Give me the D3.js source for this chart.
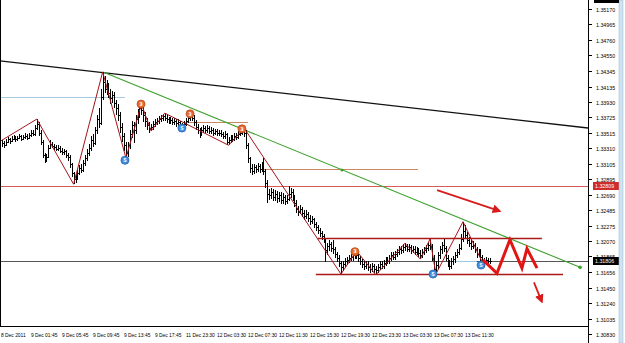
<!DOCTYPE html>
<html><head><meta charset="utf-8">
<script src="https://cdn.jsdelivr.net/npm/d3@7"></script>
<style>html,body{margin:0;padding:0;background:#fff;overflow:hidden}</style>
</head><body><svg id="c" width="625" height="343"></svg>
<script>
// ---------- DATA ----------
const firstOpen = 1.3336;
const closes = [
1.3338,1.3336,1.3340,1.3343,1.3341,1.3344,1.3346,1.3343,1.3345,1.3347,
1.3344,1.3346,1.3348,1.3345,1.3349,1.3352,1.3350,1.3358,1.3363,1.3352,
1.3340,1.3322,1.3316,1.3320,1.3332,1.3337,1.3334,1.3333,1.3330,1.3332,
1.3328,1.3326,1.3327,1.3322,1.3320,1.3310,1.3298,1.3290,1.3292,1.3298,
1.3305,1.3302,1.3312,1.3318,1.3325,1.3332,1.3342,1.3338,1.3355,1.3370,
1.3365,1.3400,1.3420,1.3410,1.3415,1.3405,1.3398,1.3402,1.3392,1.3385,
1.3375,1.3360,1.3348,1.3335,1.3325,1.3335,1.3350,1.3362,1.3355,1.3370,
1.3378,1.3385,1.3382,1.3375,1.3368,1.3362,1.3358,1.3360,1.3364,1.3366,
1.3368,1.3370,1.3372,1.3374,1.3372,1.3370,1.3368,1.3369,1.3366,1.3367,
1.3365,1.3366,1.3362,1.3360,1.3364,1.3368,1.3372,1.3374,1.3372,1.3366,
1.3360,1.3355,1.3350,1.3356,1.3358,1.3355,1.3358,1.3354,1.3355,1.3352,
1.3354,1.3351,1.3352,1.3350,1.3348,1.3350,1.3340,1.3342,1.3345,1.3344,
1.3348,1.3346,1.3350,1.3352,1.3355,1.3352,1.3335,1.3318,1.3305,1.3300,
1.3306,1.3303,1.3307,1.3304,1.3308,1.3300,1.3285,1.3270,1.3268,1.3272,
1.3266,1.3270,1.3264,1.3268,1.3262,1.3266,1.3260,1.3263,1.3270,1.3272,
1.3265,1.3258,1.3250,1.3246,1.3250,1.3244,1.3240,1.3243,1.3238,1.3234,
1.3236,1.3230,1.3226,1.3222,1.3218,1.3214,1.3210,1.3195,1.3200,1.3203,
1.3198,1.3196,1.3190,1.3185,1.3178,1.3172,1.3176,1.3180,1.3182,1.3185,
1.3186,1.3188,1.3190,1.3188,1.3184,1.3180,1.3176,1.3174,1.3177,1.3172,
1.3170,1.3174,1.3170,1.3168,1.3172,1.3176,1.3174,1.3178,1.3182,1.3180,
1.3184,1.3188,1.3186,1.3190,1.3193,1.3196,1.3195,1.3199,1.3200,1.3197,
1.3199,1.3195,1.3197,1.3193,1.3195,1.3191,1.3189,1.3192,1.3195,1.3198,
1.3202,1.3200,1.3185,1.3170,1.3175,1.3188,1.3196,1.3202,1.3198,1.3185,
1.3178,1.3174,1.3180,1.3183,1.3188,1.3192,1.3198,1.3210,1.3220,1.3215,
1.3208,1.3205,1.3200,1.3202,1.3196,1.3190,1.3193,1.3186,1.3182,1.3178,
1.3182,1.3180,1.3180];
const highs = [
1.3342,1.3341,1.3343,1.3346,1.3345,1.3347,1.3349,1.3348,1.3348,1.3350,
1.3349,1.3349,1.3351,1.3350,1.3352,1.3356,1.3355,1.3362,1.3370,1.3366,
1.3355,1.3342,1.3325,1.3324,1.3335,1.3342,1.3339,1.3337,1.3336,1.3335,
1.3334,1.3331,1.3330,1.3329,1.3325,1.3322,1.3312,1.3300,1.3297,1.3302,
1.3309,1.3310,1.3316,1.3322,1.3330,1.3337,1.3347,1.3350,1.3359,1.3375,
1.3385,1.3410,1.3433,1.3428,1.3422,1.3418,1.3410,1.3408,1.3406,1.3396,
1.3390,1.3380,1.3365,1.3352,1.3340,1.3340,1.3355,1.3368,1.3366,1.3375,
1.3383,1.3389,1.3390,1.3386,1.3380,1.3372,1.3366,1.3364,1.3368,1.3370,
1.3372,1.3374,1.3376,1.3377,1.3378,1.3375,1.3373,1.3373,1.3372,1.3371,
1.3370,1.3370,1.3368,1.3365,1.3367,1.3371,1.3376,1.3378,1.3380,1.3375,
1.3369,1.3363,1.3358,1.3360,1.3362,1.3361,1.3362,1.3361,1.3359,1.3358,
1.3357,1.3357,1.3356,1.3355,1.3353,1.3354,1.3352,1.3346,1.3349,1.3349,
1.3351,1.3352,1.3354,1.3356,1.3358,1.3358,1.3355,1.3338,1.3320,1.3310,
1.3310,1.3309,1.3312,1.3310,1.3313,1.3318,1.3303,1.3288,1.3276,1.3278,
1.3276,1.3275,1.3274,1.3273,1.3272,1.3271,1.3269,1.3268,1.3280,1.3278,
1.3276,1.3268,1.3262,1.3254,1.3255,1.3253,1.3248,1.3248,1.3246,1.3242,
1.3240,1.3238,1.3233,1.3229,1.3225,1.3221,1.3217,1.3211,1.3205,1.3208,
1.3206,1.3208,1.3199,1.3193,1.3188,1.3181,1.3180,1.3184,1.3186,1.3189,
1.3190,1.3192,1.3193,1.3194,1.3191,1.3187,1.3183,1.3180,1.3181,1.3180,
1.3176,1.3178,1.3177,1.3174,1.3176,1.3180,1.3180,1.3182,1.3186,1.3186,
1.3188,1.3192,1.3192,1.3194,1.3197,1.3200,1.3200,1.3203,1.3204,1.3203,
1.3203,1.3202,1.3201,1.3200,1.3199,1.3198,1.3195,1.3196,1.3199,1.3202,
1.3206,1.3210,1.3203,1.3188,1.3180,1.3192,1.3200,1.3206,1.3210,1.3200,
1.3189,1.3182,1.3184,1.3187,1.3192,1.3196,1.3203,1.3216,1.3233,1.3228,
1.3219,1.3212,1.3209,1.3207,1.3205,1.3199,1.3197,1.3196,1.3189,1.3185,
1.3186,1.3185,1.3184];
const lows = [
1.3333,1.3332,1.3334,1.3338,1.3337,1.3339,1.3342,1.3340,1.3341,1.3343,
1.3341,1.3342,1.3343,1.3342,1.3343,1.3346,1.3347,1.3348,1.3355,1.3348,
1.3336,1.3318,1.3311,1.3313,1.3318,1.3330,1.3331,1.3329,1.3327,1.3327,
1.3325,1.3322,1.3322,1.3318,1.3314,1.3305,1.3292,1.3283,1.3284,1.3288,
1.3295,1.3298,1.3299,1.3308,1.3314,1.3321,1.3328,1.3333,1.3335,1.3350,
1.3358,1.3362,1.3396,1.3405,1.3402,1.3398,1.3390,1.3392,1.3385,1.3376,
1.3368,1.3352,1.3340,1.3328,1.3318,1.3320,1.3330,1.3345,1.3338,1.3350,
1.3364,1.3372,1.3375,1.3366,1.3360,1.3356,1.3352,1.3354,1.3356,1.3360,
1.3362,1.3364,1.3366,1.3368,1.3367,1.3365,1.3363,1.3364,1.3362,1.3362,
1.3360,1.3361,1.3358,1.3356,1.3357,1.3361,1.3365,1.3368,1.3367,1.3361,
1.3355,1.3350,1.3345,1.3347,1.3352,1.3351,1.3352,1.3350,1.3350,1.3348,
1.3349,1.3347,1.3347,1.3346,1.3343,1.3344,1.3336,1.3335,1.3338,1.3340,
1.3341,1.3342,1.3343,1.3347,1.3349,1.3346,1.3330,1.3312,1.3298,1.3295,
1.3296,1.3298,1.3299,1.3298,1.3300,1.3295,1.3278,1.3258,1.3262,1.3263,
1.3260,1.3261,1.3258,1.3259,1.3256,1.3257,1.3255,1.3256,1.3260,1.3265,
1.3260,1.3252,1.3245,1.3241,1.3243,1.3239,1.3235,1.3236,1.3233,1.3229,
1.3230,1.3225,1.3221,1.3217,1.3213,1.3209,1.3205,1.3179,1.3188,1.3194,
1.3192,1.3190,1.3184,1.3179,1.3172,1.3163,1.3167,1.3172,1.3175,1.3178,
1.3180,1.3181,1.3183,1.3183,1.3179,1.3175,1.3171,1.3169,1.3170,1.3167,
1.3165,1.3166,1.3165,1.3162,1.3164,1.3168,1.3170,1.3170,1.3174,1.3176,
1.3176,1.3180,1.3182,1.3182,1.3186,1.3189,1.3190,1.3191,1.3194,1.3192,
1.3193,1.3190,1.3191,1.3188,1.3189,1.3186,1.3183,1.3185,1.3188,1.3191,
1.3194,1.3195,1.3180,1.3165,1.3163,1.3170,1.3183,1.3190,1.3192,1.3180,
1.3172,1.3168,1.3170,1.3175,1.3178,1.3184,1.3188,1.3195,1.3206,1.3210,
1.3203,1.3199,1.3195,1.3196,1.3191,1.3184,1.3186,1.3181,1.3176,1.3173,
1.3175,1.3176,1.3177];

const priceTicks = ["1.35170","1.34965","1.34760","1.34550","1.34345","1.34135","1.33930","1.33725",
  "1.33515","1.33310","1.33105","1.32895","1.32690","1.32485","1.32275","1.32070","1.31865",
  "1.31656","1.31450","1.31240","1.31035","1.30830"];
const timeLabels = ["8 Dec 2011","9 Dec 01:45","9 Dec 05:45","9 Dec 09:45","9 Dec 13:45","9 Dec 17:45",
  "11 Dec 23:30","12 Dec 03:30","12 Dec 07:30","12 Dec 11:30","12 Dec 15:30","12 Dec 19:30",
  "12 Dec 23:30","13 Dec 03:30","13 Dec 07:30","13 Dec 11:30"];
const timeLabelBars = [-0.5,15,31,47,63,79,95,111,127,143,159,175,191,207,223,239];

// ZigZag indicator vertices [bar index, price]
const zigzag = [[-0.5,1.3341],[18,1.3370],[37,1.3283],[52,1.3433],[64,1.3318],[72,1.3390],[77,1.3354],
  [84,1.3378],[117,1.3335],[125,1.3358],[175,1.3163],[183,1.3194],[193,1.3162],[208,1.3204],
  [216,1.3183],[221,1.3210],[224,1.3163],[238,1.3233],[249,1.3173]];
// wave markers [bar, price, label]
const orangeMarks = [[71.8,1.3390,"3"],[97.1,1.3377,"3"],[123.9,1.3357,"3"],[182.2,1.3193,"3"]];
const blueMarks = [[63.5,1.3315,"5"],[92.9,1.3358,"5"],[222.5,1.3163,"5"],[247.3,1.3175,"5"]];
// trend lines [[bar,price],[bar,price]]
const blackTrend = [[-1,1.34476],[302.5,1.33581]];
const greenTrend = [[52.2,1.3433],[298.4,1.3172]];
const greenMid = [175.5,1.3302];
// horizontal levels
const blueLevel = {p:1.3399, from:-1, to:63.5};
const brownLevels = [{p:1.3366, from:94.5, to:127},{p:1.3303, from:134, to:214.7}];
const redLevel = 1.32809, redLabel = "1.32809";
const bidLevel = 1.31806, bidLabel = "1.31806";
const askSeg = {p:1.31806, from:233, to:245};
const channel = [{p:1.3211, from:163, to:278.7},{p:1.3163, from:162, to:289.6}];
// projected red zigzag and arrows
const projection = [[248.3,1.3182],[255.5,1.3164],[262.2,1.3209],[268.4,1.3171],[271,1.3197],[276.2,1.3171]];
const arrows = [[[224.6,1.3275],[257,1.3247]],[[274.6,1.3152],[278.7,1.3126]]];

// ---------- DRAW ----------
const svg = d3.select("#c");
const PR = 588, PB = 326;
const x = d3.scaleLinear().domain([-1, 302.5]).range([0, PR]);
const y = d3.scaleLinear().domain([1.30830, 1.35170]).range([334, 9]);

svg.append("rect").attr("width",625).attr("height",343).attr("fill","#fff");
const defs = svg.append("defs");
defs.append("clipPath").attr("id","clip").append("rect").attr("x",0).attr("y",0).attr("width",PR).attr("height",PB);
defs.append("marker").attr("id","ah").attr("viewBox","0 0 10 10").attr("refX",8).attr("refY",5)
  .attr("markerWidth",9).attr("markerHeight",9).attr("markerUnits","userSpaceOnUse").attr("orient","auto")
  .append("path").attr("d","M0,0L10,5L0,10Z").attr("fill","#d81c1c");

const g = svg.append("g").attr("clip-path","url(#clip)");
const line = d3.line().x(d=>x(d[0])).y(d=>y(d[1]));
function hline(p, a, b, color, w){
  g.append("line").attr("x1",x(a)).attr("x2",x(b)).attr("y1",Math.round(y(p))+0.5).attr("y2",Math.round(y(p))+0.5)
   .attr("stroke",color).attr("stroke-width",w);
}
hline(blueLevel.p, blueLevel.from, blueLevel.to, "#a9cbe0", 1);
brownLevels.forEach(l=>hline(l.p,l.from,l.to,"#c98a63",1));
hline(redLevel, -1, 302.5, "#d65a5a", 1);
hline(bidLevel, -1, 302.5, "#555", 1);
hline(askSeg.p, askSeg.from, askSeg.to, "#9cc6e6", 1);

g.append("path").attr("d",line(blackTrend)).attr("stroke","#111").attr("stroke-width",1.3).attr("fill","none");
g.append("path").attr("d",line(greenTrend)).attr("stroke","#3ea12e").attr("stroke-width",1.1).attr("fill","none");
g.append("circle").attr("cx",x(greenMid[0])).attr("cy",y(greenMid[1])).attr("r",1.5).attr("fill","#3ea12e");
g.append("circle").attr("cx",x(greenTrend[1][0])).attr("cy",y(greenTrend[1][1])).attr("r",1.8).attr("fill","#3ea12e");

// OHLC bars
const bars = g.append("g").attr("stroke","#000").attr("stroke-width",1).attr("shape-rendering","crispEdges");
closes.forEach((c,i)=>{
  const o = i===0 ? firstOpen : closes[i-1];
  const cx = Math.round(x(i))+0.5;
  bars.append("line").attr("x1",cx).attr("x2",cx).attr("y1",y(highs[i])).attr("y2",y(lows[i]));
  bars.append("line").attr("x1",cx-1).attr("x2",cx).attr("y1",Math.round(y(o))+0.5).attr("y2",Math.round(y(o))+0.5);
  bars.append("line").attr("x1",cx).attr("x2",cx+1).attr("y1",Math.round(y(c))+0.5).attr("y2",Math.round(y(c))+0.5);
});

g.append("path").attr("d",line(zigzag)).attr("stroke","#a3151a").attr("stroke-width",1).attr("fill","none");
channel.forEach(l=>hline(l.p,l.from,l.to,"#a81a1a",1.5));

function marks(arr, fill, stroke){
  arr.forEach(m=>{
    g.append("circle").attr("cx",x(m[0])).attr("cy",y(m[1])).attr("r",4).attr("fill",fill).attr("stroke",stroke).attr("stroke-width",0.8);
    g.append("text").attr("x",x(m[0])).attr("y",y(m[1])+1.8).attr("text-anchor","middle")
      .attr("font-family","DejaVu Sans").attr("font-size",5).attr("font-weight","bold").attr("fill","#fff").text(m[2]);
  });
}
marks(orangeMarks,"#e8692e","#b84a1a");
marks(blueMarks,"#3d8fe0","#2a60b0");

g.append("path").attr("d",line(projection)).attr("stroke","#e21414").attr("stroke-width",3).attr("fill","none").attr("stroke-linejoin","miter");
arrows.forEach(a=>g.append("path").attr("d",line(a)).attr("stroke","#d81c1c").attr("stroke-width",1.8).attr("fill","none").attr("marker-end","url(#ah)"));

// frame
svg.append("line").attr("x1",0.5).attr("x2",0.5).attr("y1",0).attr("y2",PB).attr("stroke","#000");
svg.append("line").attr("x1",0).attr("x2",PR).attr("y1",PB+0.5).attr("y2",PB+0.5).attr("stroke","#000");
svg.append("line").attr("x1",PR+0.5).attr("x2",PR+0.5).attr("y1",0).attr("y2",343).attr("stroke","#000");

// price axis
const ax = svg.append("g").attr("font-family","Liberation Sans, Arial").attr("font-size",5.3);
priceTicks.forEach(t=>{
  const yy = Math.round(y(+t))+0.5;
  ax.append("line").attr("x1",PR).attr("x2",PR+4).attr("y1",yy).attr("y2",yy).attr("stroke","#000");
  ax.append("text").attr("x",PR+8).attr("y",yy+2).attr("fill","#000").text(t);
});
function priceBox(p, label, fill){
  const yy = Math.round(y(p));
  ax.append("rect").attr("x",PR+5).attr("y",yy-4).attr("width",27).attr("height",8).attr("fill",fill);
  ax.append("text").attr("x",PR+7).attr("y",yy+2).attr("fill","#fff").text(label);
}
priceBox(redLevel, redLabel, "#d02c2c");
priceBox(bidLevel, bidLabel, "#000");

// time axis
const tx = svg.append("g").attr("font-family","Liberation Sans, Arial").attr("font-size",4.9);
timeLabels.forEach((t,k)=>{
  const xx = Math.max(1, x(timeLabelBars[k]));
  tx.append("text").attr("x",xx).attr("y",337).attr("fill","#000").text(t);
});

// right scrollbar strip
svg.append("rect").attr("x",619).attr("y",0).attr("width",4).attr("height",343).attr("fill","#cfe2f2").attr("stroke","#9bb8d0").attr("stroke-width",0.5);
svg.append("rect").attr("x",594).attr("y",0).attr("width",25).attr("height",3).attr("fill","#000");
</script></body></html>
